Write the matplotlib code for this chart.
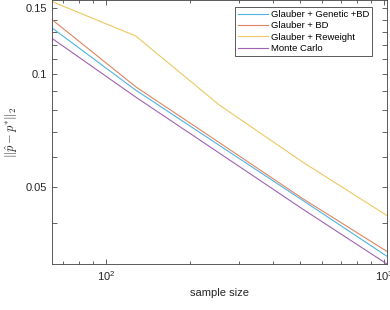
import numpy as np
import matplotlib.pyplot as plt
from matplotlib.ticker import FixedLocator, NullFormatter, FixedFormatter

plt.rcParams['font.family'] = ['Liberation Sans', 'DejaVu Sans']
plt.rcParams['mathtext.fontset'] = 'cm'

# sample sizes and error values
n = [64, 128, 256, 512, 1024]
genetic_bd = [0.133, 0.0906, 0.0644, 0.0458, 0.0325]
glauber_bd = [0.140, 0.0925, 0.0655, 0.0463, 0.0335]
reweight = [0.1565, 0.1265, 0.0826, 0.0580, 0.0418]
monte_carlo = [0.1247, 0.0868, 0.0614, 0.0434, 0.0310]

labels = ['Glauber + Genetic +BD', 'Glauber + BD', 'Glauber + Reweight', 'Monte Carlo']
colors = ['#4FB4E2', '#E08460', '#EEC860', '#A062B2']

fig = plt.figure(figsize=(3.9, 3.1), dpi=100)
ax = fig.add_axes([52 / 390, 46 / 310, 335 / 390, 264 / 310])

for ys, lab, c in zip([genetic_bd, glauber_bd, reweight, monte_carlo], labels, colors):
    ax.plot(n, ys, color=c, lw=0.8, label=lab)

ax.set_xscale('log')
ax.set_yscale('log')
ax.set_xlim(64, 1024)
ax.set_ylim(0.031, 0.158)

ax.xaxis.set_major_locator(FixedLocator([100, 1000]))
ax.xaxis.set_major_formatter(FixedFormatter([r'$\mathregular{10^2}$', r'$\mathregular{10^3}$']))
ax.xaxis.set_minor_locator(FixedLocator([70, 80, 90, 200, 300, 400, 500, 600, 700, 800, 900]))
ax.xaxis.set_minor_formatter(NullFormatter())

yt = [0.04, 0.05, 0.06, 0.07, 0.08, 0.09, 0.1, 0.11, 0.12, 0.13, 0.14, 0.15]
ylab = ['' if v not in (0.05, 0.1, 0.15) else ('%g' % v) for v in yt]
ax.yaxis.set_major_locator(FixedLocator(yt))
ax.yaxis.set_major_formatter(FixedFormatter(ylab))
ax.yaxis.set_minor_locator(FixedLocator([]))

ax.tick_params(which='both', direction='in', top=True, right=True,
               colors='#262626', labelsize=8, width=0.5)
ax.tick_params(which='major', length=3.5)
ax.tick_params(which='minor', length=2)
for s in ax.spines.values():
    s.set_color('#404040')
    s.set_linewidth(0.6)

ax.set_xlabel('sample size', fontsize=8, color='#262626')
ax.set_ylabel(r'$\|\hat{p}-p^{*}\|_2$', fontsize=9, color='#262626')
ax.yaxis.set_label_coords(-0.095, 0.5)

leg = ax.legend(loc='upper right', fontsize=6.8, fancybox=False, framealpha=1,
                edgecolor='#404040', handlelength=3.2, borderpad=0.3,
                labelspacing=0.25, handletextpad=0.3, borderaxespad=0.0,
                bbox_to_anchor=(1 - 15 / 335, 1 - 7 / 264))
leg.get_frame().set_linewidth(0.6)

fig.savefig('out.png', dpi=100)
